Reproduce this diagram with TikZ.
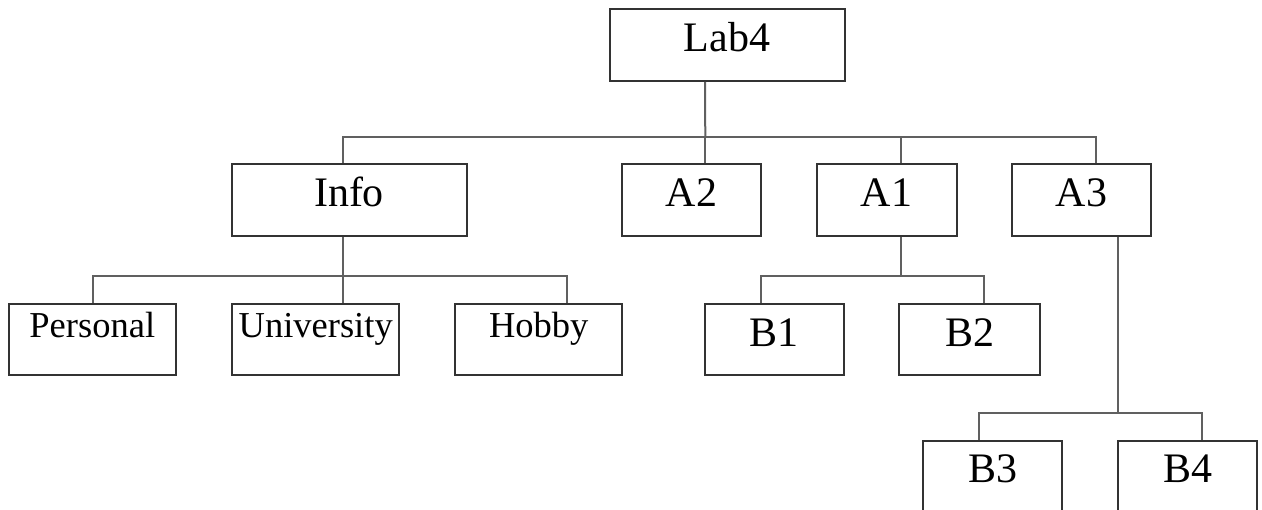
\documentclass[tikz,border=0pt]{standalone}
\usepackage{fontspec}
\setmainfont{Liberation Serif}
\usepackage{xcolor}
\usetikzlibrary{positioning}
\definecolor{boxgray}{RGB}{51, 51, 51}
\definecolor{linkgray}{RGB}{96, 96, 96}

\begin{document}
\begin{tikzpicture}[
    x=1pt, y=-1pt,
    box/.style={rectangle, draw=boxgray, line width=2pt, inner sep=0pt, minimum width=139pt, minimum height=72pt, text height=30pt, text depth=17pt, font=\fontsize{42}{50}\selectfont},
    widebox/.style={box, minimum width=235pt},
    leafbox/.style={box, minimum width=167pt, minimum height=71pt, text height=25pt, text depth=28.4pt, font=\fontsize{36.5}{44}\selectfont},
    link/.style={draw=linkgray, line width=2pt}
]

\useasboundingbox (0,0) rectangle (1262,510);

% Top level
\node (lab4) [widebox] at (727,45) {Lab4};

% Second level
\node (info) [widebox] at (349,200) {Info};
\node (a2) [box] at (691.5,200) {A2};
\node (a1) [box, minimum width=140pt] at (886.5,200) {A1};
\node (a3) [box] at (1081.5,200) {A3};

% Third level
\node (personal) [leafbox] at (92.3,339.7) {Personal};
\node (university) [leafbox] at (315.7,339.7) {University};
\node (hobby) [leafbox] at (538.7,339.7) {Hobby};
\node (b1) [box, minimum height=71pt] at (774,339.7) {B1};
\node (b2) [box, minimum width=141pt, minimum height=71pt] at (969.8,339.7) {B2};

% Fourth level
\node (b3) [box, minimum height=71pt] at (992.7,476.2) {B3};
\node (b4) [box, minimum height=71pt] at (1187.8,476.2) {B4};

% Bus junctions
\coordinate (top) at (705.3,136.7);
\coordinate (infobus) at (343.3,275.7);
\coordinate (a1bus) at (900.7,275.7);
\coordinate (a3bus) at (1118,413.3);

% Lab4 to second level
\draw [link] ([xshift=-22pt]lab4.south) -- (top);
\draw [link] ([xshift=-5.7pt]info.north) |- (top);
\draw [link] ([xshift=13.8pt]a2.north) -- (top);
\draw [link] ([xshift=14.2pt]a1.north) |- (top);
\draw [link] ([xshift=14.2pt]a3.north) |- (top);

% Info to its children
\draw [link] ([xshift=-5.7pt]info.south) -- (infobus);
\draw [link] ([xshift=1pt]personal.north) |- (infobus);
\draw [link] ([xshift=27.6pt]university.north) -- (infobus);
\draw [link] ([xshift=27.9pt]hobby.north) |- (infobus);

% A1 to its children
\draw [link] ([xshift=14.2pt]a1.south) -- (a1bus);
\draw [link] ([xshift=-13pt]b1.north) |- (a1bus);
\draw [link] ([xshift=14.2pt]b2.north) |- (a1bus);

% A3 to its children
\draw [link] ([xshift=36.5pt]a3.south) -- (a3bus);
\draw [link] ([xshift=-13.7pt]b3.north) |- (a3bus);
\draw [link] ([xshift=14.2pt]b4.north) |- (a3bus);

\end{tikzpicture}
\end{document}
